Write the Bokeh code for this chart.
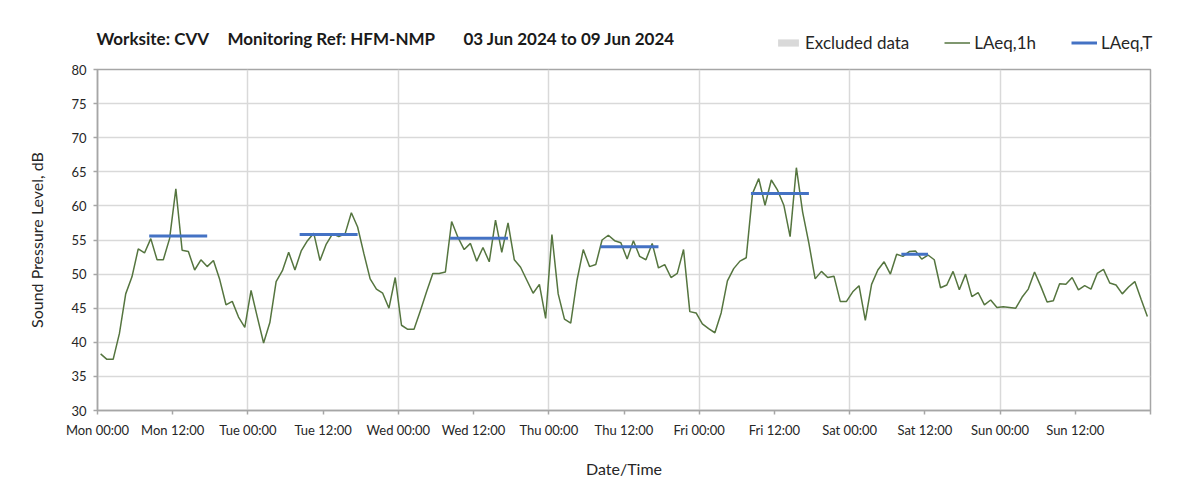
from bokeh.plotting import figure
from bokeh.layouts import column
from bokeh.models import (Range1d, FixedTicker, Label, Legend, LegendItem)
from bokeh.embed import file_html
from bokeh.resources import INLINE

# ---------------- data ----------------
# hourly LAeq,1h values, Mon 03 Jun 2024 00:00 .. Sun 09 Jun 2024 23:00 (plotted at mid-hour)
hour_index = list(range(168))
laeq_1h = [
    38.3, 37.5, 37.5, 41.3, 47.1, 49.6, 53.7, 53.1, 55.2, 52.1, 52.1, 55.2,
    62.5, 53.5, 53.3, 50.6, 52.1, 51.1, 52.0, 49.2, 45.5, 46.0, 43.7, 42.2,
    47.6, 43.7, 39.9, 42.9, 48.9, 50.5, 53.2, 50.6, 53.4, 54.9, 56.0, 52.0,
    54.4, 55.9, 55.5, 55.9, 59.0, 56.9, 53.0, 49.3, 47.8, 47.2, 45.0, 49.5,
    42.5, 41.9, 41.9, 44.6, 47.4, 50.1, 50.1, 50.3, 57.7, 55.4, 53.6, 54.5,
    51.9, 53.9, 51.8, 57.9, 53.2, 57.5, 52.1, 51.0, 49.1, 47.2, 48.5, 43.5,
    55.8, 47.1, 43.4, 42.8, 49.1, 53.6, 51.1, 51.4, 55.0, 55.7, 54.9, 54.6,
    52.2, 54.9, 52.6, 52.1, 54.5, 50.9, 51.4, 49.5, 50.1, 53.6, 44.5, 44.3,
    42.7, 42.0, 41.4, 44.3, 49.0, 50.8, 51.9, 52.4, 61.8, 64.0, 60.1, 63.8,
    62.3, 60.1, 55.5, 65.6, 59.1, 54.5, 49.3, 50.4, 49.5, 49.7, 46.0, 46.0,
    47.4, 48.3, 43.2, 48.5, 50.6, 51.8, 50.0, 52.9, 52.6, 53.3, 53.4, 52.2,
    52.8, 52.1, 48.0, 48.4, 50.4, 47.7, 50.0, 46.7, 47.3, 45.5, 46.2, 45.1,
    45.2, 45.1, 45.0, 46.6, 47.8, 50.3, 48.2, 45.9, 46.1, 48.6, 48.5, 49.5,
    47.7, 48.3, 47.8, 50.1, 50.7, 48.7, 48.4, 47.1, 48.1, 48.9, 46.3, 43.8,
]
# LAeq,T over the daytime assessment periods (hours since Mon 00:00)
period_start = [8.25, 32.25, 56.25, 80.25, 104.25, 128.25]
period_end = [17.5, 41.5, 65.5, 89.5, 113.5, 132.5]
laeq_t = [55.6, 55.8, 55.25, 54.0, 61.8, 52.9]

tick_hours = [0, 12, 24, 36, 48, 60, 72, 84, 96, 108, 120, 132, 144, 156, 168]
tick_labels = ["Mon 00:00", "Mon 12:00", "Tue 00:00", "Tue 12:00", "Wed 00:00",
               "Wed 12:00", "Thu 00:00", "Thu 12:00", "Fri 00:00", "Fri 12:00",
               "Sat 00:00", "Sat 12:00", "Sun 00:00", "Sun 12:00", ""]
day_hours = [24, 48, 72, 96, 120, 144]
y_ticks = [30, 35, 40, 45, 50, 55, 60, 65, 70, 75, 80]

title_parts = ["Worksite: CVV", "Monitoring Ref: HFM-NMP", "03 Jun 2024 to 09 Jun 2024"]
legend_labels = ["Excluded data", "LAeq,1h", "LAeq,T"]

FONT = "Lato"
TXT = "#262626"
GREEN = "#55753f"
BLUE = "#4472c4"
GREY_BOX = "#d9d9d9"

W = 1187
HEAD_H = 61

# ---------------- header (title + legend) ----------------
head = figure(width=W, height=HEAD_H, output_backend="svg", toolbar_location=None,
              x_range=Range1d(0, W), y_range=Range1d(0, HEAD_H),
              x_axis_location=None, y_axis_location=None,
              min_border=0, min_border_left=0, min_border_right=0,
              min_border_top=0, min_border_bottom=0)
head.frame_align = False
head.outline_line_color = None
head.xgrid.visible = False
head.ygrid.visible = False
head.background_fill_color = "white"
head.border_fill_color = "white"

title_x = [96, 227, 463]
for tx, txt in zip(title_x, title_parts):
    head.add_layout(Label(x=tx, y=HEAD_H - 38, text=txt, text_font=FONT, text_font_size="17px",
                          text_font_style="bold", text_color="#1a1a1a",
                          text_baseline="middle", text_align="left"))

# legend proxies (placed off-view; only their legend swatches are seen)
excl = head.quad(left=[-20], right=[-10], bottom=[-20], top=[-10],
                 fill_color=GREY_BOX, line_color=None)
g_leg = head.line(x=[-20, -10], y=[-20, -20], line_color=GREEN, line_width=1.5)
b_leg = head.line(x=[-20, -10], y=[-20, -20], line_color=BLUE, line_width=3)
legend = Legend(items=[LegendItem(label=legend_labels[0], renderers=[excl]),
                       LegendItem(label=legend_labels[1], renderers=[g_leg]),
                       LegendItem(label=legend_labels[2], renderers=[b_leg])],
                orientation="horizontal", location=(775, HEAD_H - 53),
                glyph_width=26, glyph_height=9, label_height=18,
                label_standoff=4, spacing=35, padding=0, margin=0,
                border_line_color=None, background_fill_alpha=0,
                label_text_font=FONT, label_text_font_size="17px",
                label_text_color=TXT)
head.add_layout(legend, "center")

# ---------------- main chart ----------------
times = [h + 0.5 for h in hour_index]

p = figure(width=W, height=426, output_backend="svg", toolbar_location=None,
           x_range=Range1d(0, 168), y_range=Range1d(30, 80))
p.frame_align = False
p.min_border_left = 97
p.min_border_right = 37
p.min_border_top = 8
p.min_border_bottom = 77
p.outline_line_color = "#a6a6a6"
p.outline_line_width = 1.5
p.background_fill_color = "white"
p.border_fill_color = "white"

for ax in (p.xaxis[0], p.yaxis[0]):
    ax.axis_line_color = "#a6a6a6"
    ax.axis_line_width = 1.5
    ax.major_tick_line_color = "#a6a6a6"
    ax.major_tick_line_width = 1.5
    ax.major_tick_out = 4
    ax.major_tick_in = 0
    ax.minor_tick_line_color = None
    ax.major_label_text_font = FONT
    ax.major_label_text_font_size = "13px"
    ax.major_label_text_color = TXT
    ax.axis_label_text_font = FONT
    ax.axis_label_text_font_size = "16px"
    ax.axis_label_text_font_style = "normal"
    ax.axis_label_text_color = TXT

p.xaxis.ticker = FixedTicker(ticks=tick_hours)
p.xaxis.major_label_overrides = {h: lab for h, lab in zip(tick_hours, tick_labels)}
p.xaxis.major_label_standoff = 7
p.xaxis.axis_label = "Date/Time"
p.xaxis.axis_label_standoff = 18

p.yaxis.ticker = FixedTicker(ticks=y_ticks)
p.yaxis.major_label_standoff = 7
p.yaxis.axis_label = "Sound Pressure Level, dB"
p.yaxis.axis_label_standoff = 22

p.xgrid.ticker = FixedTicker(ticks=day_hours)
p.ygrid.ticker = FixedTicker(ticks=y_ticks)
for g in (p.xgrid[0], p.ygrid[0]):
    g.grid_line_color = "#d9d9d9"
    g.grid_line_width = 1.5

p.line(times, laeq_1h, line_color=GREEN, line_width=1.5)
p.segment(x0=period_start, x1=period_end, y0=laeq_t, y1=laeq_t,
          line_color=BLUE, line_width=3)

layout = column(head, p, spacing=0)
open("out.html", "w").write(file_html(layout, INLINE))
